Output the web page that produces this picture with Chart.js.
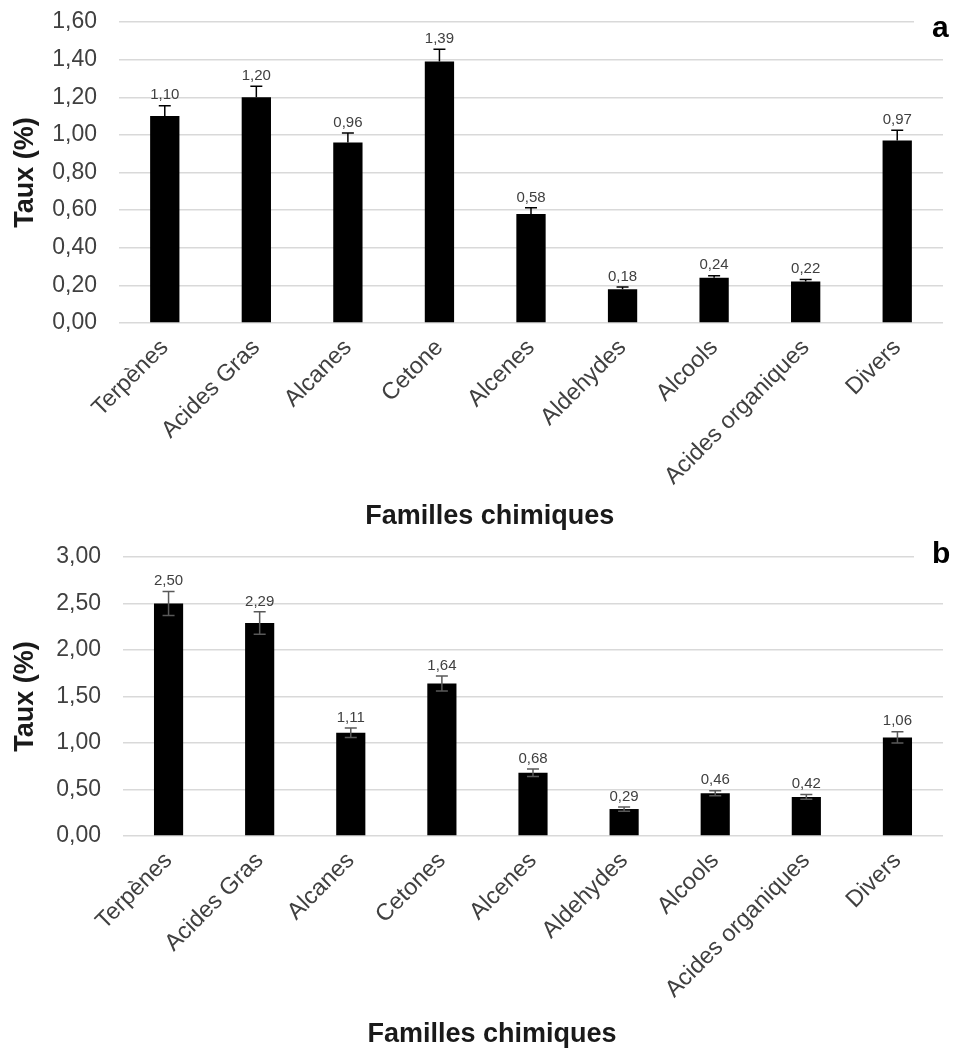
<!DOCTYPE html>
<html>
<head>
<meta charset="utf-8">
<script src="https://cdn.jsdelivr.net/npm/chart.js@4.4.1/dist/chart.umd.min.js"></script>
<style>
  body { margin: 0; background: #fff; }
  .wrap { position: absolute; left: 0; width: 954px; }
  .tag { position: absolute; left: 914px; width: 40px; height: 30px; padding-left: 18px; box-sizing: border-box;
         background: #fff; font: bold 30px "Liberation Sans", Arial, sans-serif; line-height: 30px; color: #000; }
</style>
</head>
<body>
<div class="wrap" style="top:0;height:530px"><canvas id="chartA"></canvas></div>
<div class="wrap" style="top:530px;height:523px"><canvas id="chartB"></canvas></div>
<div class="tag" style="top:12px">a</div>
<div class="tag" style="top:538px">b</div>
<script>
const labelsA = ['Terpènes', 'Acides Gras', 'Alcanes', 'Cetone', 'Alcenes', 'Aldehydes', 'Alcools', 'Acides organiques', 'Divers'];
const valuesA = [1.10, 1.20, 0.96, 1.39, 0.58, 0.18, 0.24, 0.22, 0.97];
const errorsA = [0.055, 0.058, 0.05, 0.065, 0.032, 0.011, 0.011, 0.011, 0.055];

const labelsB = ['Terpènes', 'Acides Gras', 'Alcanes', 'Cetones', 'Alcenes', 'Aldehydes', 'Alcools', 'Acides organiques', 'Divers'];
const valuesB = [2.50, 2.29, 1.11, 1.64, 0.68, 0.29, 0.46, 0.42, 1.06];
const errorsB = [0.13, 0.12, 0.05, 0.08, 0.04, 0.023, 0.027, 0.025, 0.06];

const yMaxA = 1.6, yStepA = 0.2;
const yMaxB = 3.0, yStepB = 0.5;

const FONT = '"Liberation Sans", Arial, sans-serif';
const fmt = v => v.toFixed(2).replace('.', ',');

// error bars, value labels and the x axis title
const extras = {
  id: 'extras',
  afterDatasetsDraw(chart) {
    const ctx = chart.ctx;
    const y = chart.scales.y;
    const ds = chart.data.datasets[0];
    const meta = chart.getDatasetMeta(0);
    ctx.save();
    meta.data.forEach((bar, i) => {
      const v = ds.data[i], e = ds.errors[i];
      const top = y.getPixelForValue(v + e);
      const bot = ds.bothWays ? y.getPixelForValue(v - e) : bar.y;
      ctx.strokeStyle = ds.errColor;
      ctx.lineWidth = 1.5;
      ctx.beginPath();
      ctx.moveTo(bar.x, top); ctx.lineTo(bar.x, bot);
      ctx.moveTo(bar.x - 6, top); ctx.lineTo(bar.x + 6, top);
      if (ds.bothWays) { ctx.moveTo(bar.x - 6, bot); ctx.lineTo(bar.x + 6, bot); }
      ctx.stroke();
      ctx.fillStyle = '#404040';
      ctx.font = '15px ' + FONT;
      ctx.textAlign = 'center';
      ctx.textBaseline = 'bottom';
      ctx.fillText(fmt(v), bar.x, top - 3);
    });
    const a = chart.chartArea;
    ctx.fillStyle = '#1a1a1a';
    ctx.font = 'bold 27px ' + FONT;
    ctx.textAlign = 'center';
    ctx.textBaseline = 'middle';
    ctx.fillText('Familles chimiques', a.left + (a.right - a.left) * 0.45, a.bottom + ds.titleGap);
    ctx.restore();
  }
};

function makeChart(id, labels, values, errors, opts) {
  return new Chart(document.getElementById(id), {
    type: 'bar',
    data: {
      labels: labels,
      datasets: [{
        data: values,
        errors: errors,
        bothWays: opts.bothWays,
        errColor: opts.errColor,
        titleGap: opts.titleGap,
        backgroundColor: '#000',
        categoryPercentage: 1,
        barPercentage: 0.32
      }]
    },
    options: {
      responsive: true,
      maintainAspectRatio: false,
      animation: false,
      layout: { padding: { top: opts.padTop, right: 11, bottom: 0, left: 0 } },
      plugins: { legend: { display: false }, tooltip: { enabled: false } },
      scales: {
        x: {
          grid: { display: false, drawTicks: false },
          border: { display: false },
          ticks: {
            color: '#404040', font: { family: FONT, size: 23.5 },
            maxRotation: 45, minRotation: 45, autoSkip: false, padding: 11
          },
          afterFit: s => { s.height = opts.xHeight; }
        },
        y: {
          min: 0, max: opts.yMax,
          grid: { color: '#d9d9d9', lineWidth: 1.5, drawTicks: false },
          border: { display: false },
          ticks: {
            stepSize: opts.yStep, color: '#404040', font: { family: FONT, size: 23 },
            padding: 22, callback: v => fmt(v)
          },
          title: {
            display: true, text: 'Taux (%)', color: '#1a1a1a',
            font: { family: FONT, size: 27, weight: 'bold' }, padding: { top: 9, bottom: 0 }
          },
          afterFit: s => { s.width = opts.yWidth; s.paddingTop = 0; s.paddingBottom = 0; }
        }
      }
    },
    plugins: [extras]
  });
}

makeChart('chartA', labelsA, valuesA, errorsA, {
  bothWays: false, errColor: '#000', titleGap: 194, padTop: 22, xHeight: 207,
  yMax: yMaxA, yStep: yStepA, yWidth: 119
});
makeChart('chartB', labelsB, valuesB, errorsB, {
  bothWays: true, errColor: '#595959', titleGap: 199, padTop: 27, xHeight: 217,
  yMax: yMaxB, yStep: yStepB, yWidth: 123
});
</script>
</body>
</html>
